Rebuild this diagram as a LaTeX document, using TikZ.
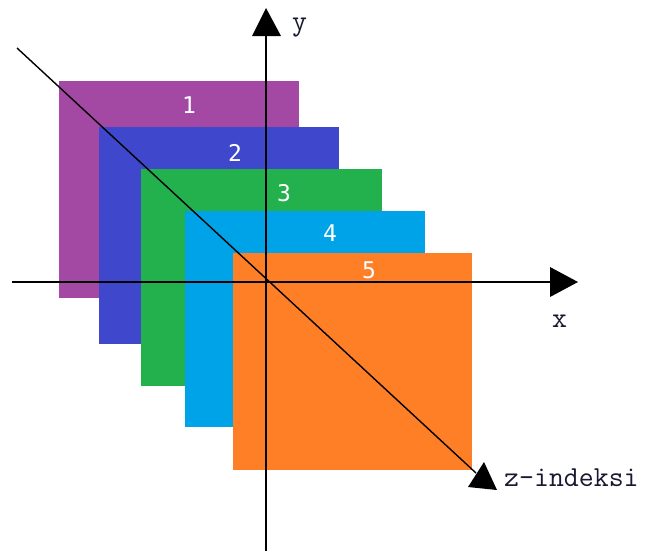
\documentclass[tikz,border=0pt]{standalone}
\usepackage{fontspec}
\newfontfamily\numfont{DejaVu Sans Mono}
\definecolor{cpurple}{HTML}{A349A4}
\definecolor{cblue}{HTML}{3F48CC}
\definecolor{cgreen}{HTML}{22B14C}
\definecolor{ccyan}{HTML}{00A2E8}
\definecolor{corange}{HTML}{FF7F27}
\definecolor{labcol}{HTML}{181830}
\begin{document}
\begin{tikzpicture}[x=1pt,y=-1pt,
  numlab/.style={inner sep=0pt,text=white,font=\numfont\fontsize{23}{23}\selectfont},
  axlab/.style={inner sep=0pt,anchor=base west,text=labcol,font=\ttfamily\fontsize{29}{29}\selectfont},
  axline/.style={line width=2pt,black},
  zline/.style={line width=1.4pt,black},
  head/.style={fill=black,draw=none}]
\useasboundingbox (0,0) rectangle (648,550);
% layers
\fill[cpurple] (59,81) rectangle (299,298);
\fill[cblue] (99,127) rectangle (339,344);
\fill[cgreen] (141,169) rectangle (382,386);
\fill[ccyan] (185,211) rectangle (425,427);
\fill[corange] (233,253) rectangle (472,470);
% layer numbers
\node[numlab] (n1) at (189,105) {1};
\node[numlab] (n2) at (235,153) {2};
\node[numlab] (n3) at (284,193) {3};
\node[numlab] (n4) at (330,233) {4};
\node[numlab] (n5) at (369,270) {5};
% axes
\coordinate (ytop) at (266,35);
\coordinate (ybot) at (266,552);
\coordinate (xleft) at (12,282);
\coordinate (xright) at (551,282);
\coordinate (zstart) at (17,48);
\coordinate (zend) at (476,473);
\draw[axline] (ybot) -- (ytop);
\draw[axline] (xleft) -- (xright);
\draw[zline] (zstart) -- (zend);
% arrow heads
\fill[head] (266,8) -- (252,36) -- (281,36) -- cycle;
\fill[head] (578,282) -- (550,267) -- (550,297) -- cycle;
\fill[head] (484,462) -- (468,487) -- (497,490) -- cycle;
% labels
\node[axlab] (ylab) at (292,30) {y};
\node[axlab] (xlab) at (552,327) {x};
\node[axlab] (zlab) at (504,486) {z-indeksi};
\end{tikzpicture}
\end{document}
